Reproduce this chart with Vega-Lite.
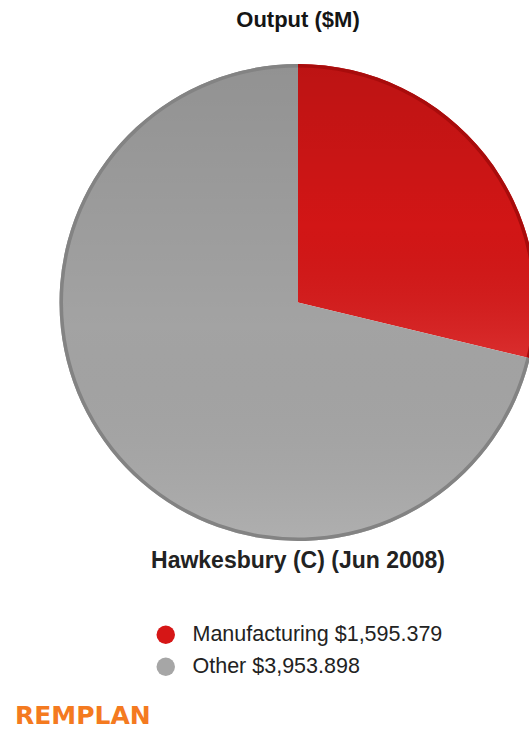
{
  "$schema": "https://vega.github.io/schema/vega-lite/v6.json",
  "background": "white",
  "padding": {"left": 0, "right": 0, "top": 9, "bottom": 0},
  "config": {"view": {"stroke": null}, "font": "Liberation Sans"},
  "title": {"text": "Output ($M)", "fontSize": 22, "fontWeight": "bold", "color": "#151515", "anchor": "middle", "offset": 32},
  "spacing": 130,
  "vconcat": [
    {
      "width": 596,
      "height": 477,
      "data": {"values": [
        {"category": "Manufacturing $1,595.379", "value": 1595.379, "order": 1},
        {"category": "Other $3,953.898", "value": 3953.898, "order": 2}
      ]},
      "title": {"text": "Hawkesbury (C) (Jun 2008)", "orient": "bottom", "fontSize": 23, "fontWeight": "bold", "color": "#222222", "anchor": "middle", "offset": 9},
      "layer": [
        {
          "mark": {"type": "arc", "outerRadius": 238.5},
          "encoding": {
            "theta": {"field": "value", "type": "quantitative", "stack": true},
            "order": {"field": "order", "type": "quantitative"},
            "color": {
              "field": "category", "type": "nominal",
              "scale": {"domain": ["Manufacturing $1,595.379", "Other $3,953.898"], "range": ["#d61616", "#a6a6a6"]},
              "legend": {
                "orient": "none", "legendX": 155, "legendY": 560, "title": null,
                "symbolType": "circle", "symbolSize": 340, "symbolStrokeWidth": 0,
                "labelFontSize": 21.5, "labelColor": "#222222", "labelFont": "Liberation Sans",
                "labelOffset": 16, "rowPadding": 9, "labelLimit": 500
              }
            }
          }
        },
        {
          "mark": {
            "type": "arc", "outerRadius": 238.5,
            "fill": {"gradient": "linear", "x1": 0, "y1": 0, "x2": 0, "y2": 1,
              "stops": [
                {"offset": 0, "color": "rgba(0,0,0,0.12)"},
                {"offset": 0.55, "color": "rgba(0,0,0,0.02)"},
                {"offset": 1, "color": "rgba(255,255,255,0.1)"}
              ]}
          },
          "encoding": {
            "theta": {"field": "value", "type": "quantitative", "stack": true},
            "order": {"field": "order", "type": "quantitative"}
          }
        },
        {
          "mark": {"type": "arc", "outerRadius": 238.5, "innerRadius": 235},
          "encoding": {
            "theta": {"field": "value", "type": "quantitative", "stack": true},
            "order": {"field": "order", "type": "quantitative"},
            "fill": {
              "field": "category", "type": "nominal",
              "scale": {"domain": ["Manufacturing $1,595.379", "Other $3,953.898"], "range": ["#a80c0c", "#838383"]},
              "legend": null
            }
          }
        }
      ]
    },
    {
      "width": 30,
      "height": 26,
      "data": {"values": [{"logo": "REMPLAN"}]},
      "mark": {"type": "text", "align": "left", "baseline": "middle", "fontSize": 25, "fontWeight": "bold", "color": "#f47a20", "font": "DejaVu Sans"},
      "encoding": {"text": {"field": "logo", "type": "nominal"}}
    }
  ]
}
